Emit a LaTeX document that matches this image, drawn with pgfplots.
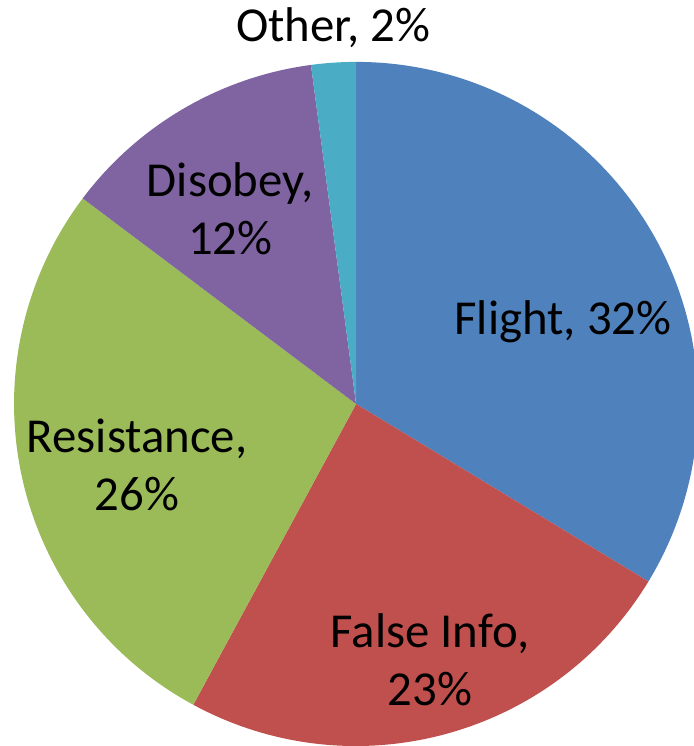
\documentclass[border=0pt]{standalone}
\usepackage{pgfplots}
\usepackage{pgfplotstable}
\pgfplotsset{compat=1.18}
\usepackage{fontspec}
\setmainfont{Carlito}
\definecolor{cFlight}{HTML}{4F81BD}
\definecolor{cFalse}{HTML}{C0504D}
\definecolor{cRes}{HTML}{9BBB59}
\definecolor{cDis}{HTML}{8064A2}
\definecolor{cOther}{HTML}{4BACC6}
\pgfplotstableread{
label value
Flight 32
FalseInfo 23
Resistance 26
Disobey 12
Other 2
}\piedata
\begin{document}%
\begin{tikzpicture}
\pgfplotstablegetelem{0}{value}\of\piedata \let\vA\pgfplotsretval
\pgfplotstablegetelem{1}{value}\of\piedata \let\vB\pgfplotsretval
\pgfplotstablegetelem{2}{value}\of\piedata \let\vC\pgfplotsretval
\pgfplotstablegetelem{3}{value}\of\piedata \let\vD\pgfplotsretval
\pgfplotstablegetelem{4}{value}\of\piedata \let\vE\pgfplotsretval
\pgfmathsetmacro\tot{\vA+\vB+\vC+\vD+\vE}%
\pgfmathsetmacro\aA{90}%
\pgfmathsetmacro\aB{\aA-360*\vA/\tot}%
\pgfmathsetmacro\aC{\aB-360*\vB/\tot}%
\pgfmathsetmacro\aD{\aC-360*\vC/\tot}%
\pgfmathsetmacro\aE{\aD-360*\vD/\tot}%
\pgfmathsetmacro\aF{\aE-360*\vE/\tot}%
\begin{axis}[
  x=5cm, y=5cm,
  xmin=-1.2, xmax=1.2,
  ymin=-1.2, ymax=1.2,
  hide axis, clip=false,
]
\coordinate (bbsw) at (-1.041,-1.0);
\coordinate (bbne) at (0.988,1.181);
\fill[cFlight] (0,0) -- ({cos(\aA)},{sin(\aA)}) arc[start angle=\aA, end angle=\aB, radius=5cm] -- cycle;
\fill[cFalse] (0,0) -- ({cos(\aB)},{sin(\aB)}) arc[start angle=\aB, end angle=\aC, radius=5cm] -- cycle;
\fill[cRes] (0,0) -- ({cos(\aC)},{sin(\aC)}) arc[start angle=\aC, end angle=\aD, radius=5cm] -- cycle;
\fill[cDis] (0,0) -- ({cos(\aD)},{sin(\aD)}) arc[start angle=\aD, end angle=\aE, radius=5cm] -- cycle;
\fill[cOther] (0,0) -- ({cos(\aE)},{sin(\aE)}) arc[start angle=\aE, end angle=\aF, radius=5cm] -- cycle;
\begin{scope}[every node/.style={font=\fontsize{20.3}{24.2}\selectfont, align=center, inner sep=0pt, text=black}]
\node at (-0.067,1.10) {Other, 2\%};
\node at (-0.368,0.570) {Disobey,\\12\%};
\node at (0.605,0.240) {Flight, 32\%};
\node at (-0.640,-0.178) {Resistance,\\26\%};
\node at (0.216,-0.748) {False Info,\\23\%};
\end{scope}
\end{axis}
\pgfresetboundingbox
\useasboundingbox (bbsw) rectangle (bbne);
\end{tikzpicture}%
\end{document}
